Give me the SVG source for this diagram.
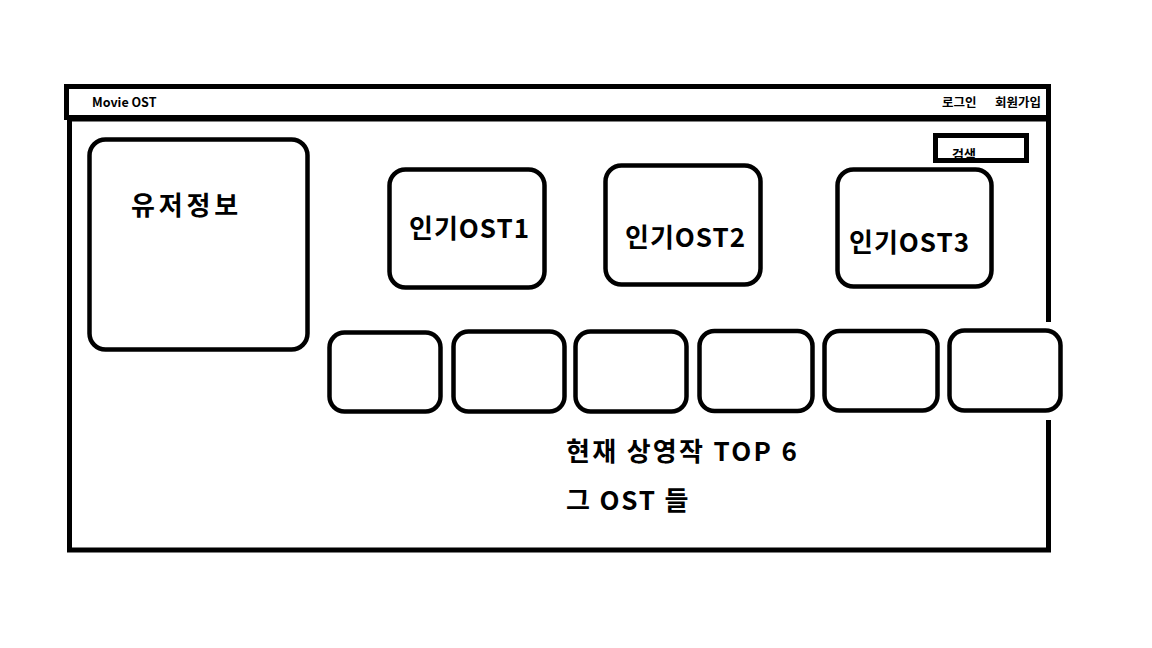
<svg xmlns="http://www.w3.org/2000/svg" width="1152" height="648" viewBox="0 0 1152 648">
<style>
.frame{fill:none;stroke:#000;stroke-width:5}
.box{fill:#fff;stroke:#000;stroke-width:4.5}
.t{font-family:"Noto Sans CJK KR","Noto Sans",sans-serif;fill:#000}
.big{font-size:26px;font-weight:bold}
.small{font-size:12.5px;font-weight:bold}
</style>
<rect width="1152" height="648" fill="#fff"/>
<g id="main-frame">
<polyline class="frame" points="1048.5,322 1048.5,119 69.5,119 69.5,550 1048.5,550 1048.5,420"/>
</g>
<g id="header">
<rect class="frame" x="66.5" y="86.5" width="982" height="31"/>
<text class="t small" x="92" y="107">Movie OST</text>
<text class="t small" x="942" y="107">로그인</text>
<text class="t small" x="1041" y="107" text-anchor="end">회원가입</text>
</g>
<g id="search">
<rect class="frame" x="935.5" y="135.5" width="91" height="25"/>
<text class="t" x="952" y="159" font-size="13" font-weight="bold">검색</text>
</g>
<g id="user-info">
<rect class="box" x="89.5" y="139.5" width="218" height="210" rx="16"/>
<text class="t big" x="131" y="215" font-size="28" letter-spacing="3.8">유저정보</text>
</g>
<g id="ost1">
<rect class="box" x="389.5" y="169.5" width="155" height="118" rx="16"/>
<text class="t big" x="409" y="238" letter-spacing="1">인기OST1</text>
</g>
<g id="ost2">
<rect class="box" x="605.5" y="165.5" width="155" height="119" rx="16"/>
<text class="t big" x="625" y="247" letter-spacing="1">인기OST2</text>
</g>
<g id="ost3">
<rect class="box" x="837.5" y="169.5" width="154" height="117" rx="16"/>
<text class="t big" x="849" y="252" letter-spacing="1">인기OST3</text>
</g>
<g id="movie1"><rect class="box" x="329.5" y="332.5" width="111" height="79" rx="15"/></g>
<g id="movie2"><rect class="box" x="453.5" y="331.5" width="111" height="80" rx="15"/></g>
<g id="movie3"><rect class="box" x="575.5" y="331.5" width="111" height="80" rx="15"/></g>
<g id="movie4"><rect class="box" x="699.5" y="331" width="113" height="80" rx="15"/></g>
<g id="movie5"><rect class="box" x="824.5" y="331" width="113" height="79.5" rx="15"/></g>
<g id="movie6"><rect class="box" x="949.5" y="330.5" width="111" height="80" rx="15"/></g>
<g id="caption">
<text class="t big" x="566" y="461" letter-spacing="2.3">현재 상영작 TOP 6</text>
<text class="t big" x="566" y="510" letter-spacing="1.8">그 OST 들</text>
</g>
<g id="connectors"></g>
</svg>
